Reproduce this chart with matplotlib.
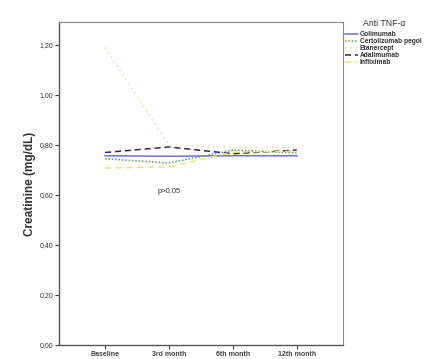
import matplotlib
matplotlib.use("Agg")
import matplotlib.pyplot as plt
from matplotlib.ticker import FuncFormatter

# Data
timepoints = ["Baseline", "3rd month", "6th month", "12th month"]
golimumab = [0.757, 0.755, 0.757, 0.757]
certolizumab = [0.745, 0.728, 0.780, 0.768]
etanercept = [1.190, 0.800, 0.790, 0.790]
adalimumab = [0.770, 0.792, 0.765, 0.780]
infliximab = [0.708, 0.712, 0.772, 0.775]

series = [
    ("Golimumab", golimumab, "#6f74c8", "-"),
    ("Certolizumab pegol", certolizumab, "#4f9f55", (0, (1, 1.2))),
    ("Etanercept", etanercept, "#f2d2a8", (0, (1, 2.5))),
    ("Adalimumab", adalimumab, "#3c2360", (0, (4, 2.5))),
    ("Infliximab", infliximab, "#f0e070", (0, (4, 3))),
]

plt.rcParams["font.family"] = ["Liberation Sans", "DejaVu Sans"]

W, H = 435, 359
fig = plt.figure(figsize=(W / 100, H / 100), dpi=100)
# frame: x 59..343 px, y 22..345 px
ax = fig.add_axes([59 / W, 14 / H, 284 / W, 323 / H])

x = range(len(timepoints))
for name, vals, color, ls in series:
    ax.plot(x, vals, color=color, linestyle=ls, linewidth=1.1, label=name)

ax.set_xlim(-0.72, 3.72)
ax.set_ylim(0, 1.292)
ax.set_xticks(list(x))
ax.set_xticklabels(timepoints, fontsize=5, fontweight="bold", color="#333333")
ax.set_yticks([0, 0.2, 0.4, 0.6, 0.8, 1.0, 1.2])
ax.yaxis.set_major_formatter(FuncFormatter(lambda v, p: f"{v:.2f}".replace(".", ",")))
ax.tick_params(axis="y", labelsize=5, colors="#444444", length=3, width=0.8, pad=1)
ax.tick_params(axis="x", length=3, width=0.8, pad=1, colors="#444444")
for lbl in ax.get_yticklabels():
    lbl.set_color("#333333")

for side in ["left", "bottom"]:
    ax.spines[side].set_color("#555555")
    ax.spines[side].set_linewidth(1.0)
for side in ["top", "right"]:
    ax.spines[side].set_color("#888888")
    ax.spines[side].set_linewidth(0.8)

ax.set_ylabel("Creatinine (mg/dL)", fontsize=8.5, fontweight="bold", color="#333333", labelpad=3)

ax.text(1.0, 0.615, "p>0.05", fontsize=5.5, color="#333333", ha="center", va="center")

fig.text(363 / W, 1 - 23 / H, "Anti TNF-\u03b1", fontsize=6.3, color="#333333", ha="left", va="center")
leg = fig.legend(
    loc="upper left", bbox_to_anchor=(345 / W, 1 - 31 / H), frameon=False,
    fontsize=4.8, handlelength=2.0, handletextpad=0.2, labelspacing=0.0,
    borderaxespad=0, borderpad=0,
)
for t in leg.get_texts():
    t.set_color("#333333")
    t.set_fontweight("bold")

fig.savefig("out.png", dpi=100)
